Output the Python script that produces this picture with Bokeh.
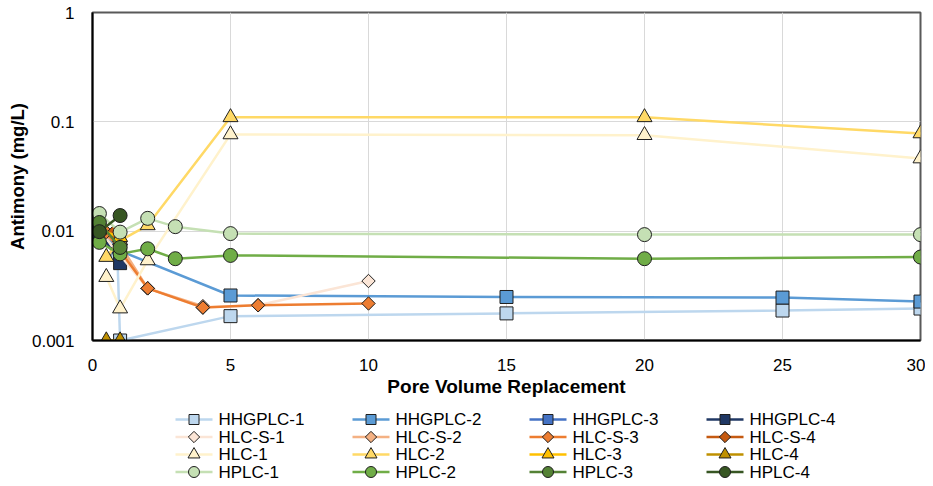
import math
from bokeh.plotting import figure
from bokeh.layouts import column
from bokeh.models import FixedTicker, CustomJSTickFormatter, Range1d
from bokeh.core.properties import value
from bokeh.embed import file_html
from bokeh.resources import INLINE

# ---- data ----
series_names = ["HHGPLC-1", "HHGPLC-2", "HHGPLC-3", "HHGPLC-4",
                "HLC-S-1", "HLC-S-2", "HLC-S-3", "HLC-S-4",
                "HLC-1", "HLC-2", "HLC-3", "HLC-4",
                "HPLC-1", "HPLC-2", "HPLC-3", "HPLC-4"]

hhgplc1_x = [0.9, 1, 5, 15, 25, 30]
hhgplc1_y = [0.0062, 0.001, 0.00167, 0.00177, 0.00188, 0.00196]
hhgplc2_x = [0.25, 1, 5, 15, 25, 30]
hhgplc2_y = [0.0102, 0.0066, 0.00258, 0.0025, 0.00247, 0.00227]
hhgplc3_x = [0.25, 1]
hhgplc3_y = [0.0105, 0.0072]
hhgplc4_x = [0.25, 1]
hhgplc4_y = [0.0099, 0.0051]

hlcs1_x = [0.25, 2, 4, 6, 10]
hlcs1_y = [0.0102, 0.003, 0.002, 0.0021, 0.0035]
hlcs2_x = [0.25, 1, 2, 4]
hlcs2_y = [0.0098, 0.0075, 0.003, 0.00206]
hlcs3_x = [0.5, 2, 4, 6, 10]
hlcs3_y = [0.0098, 0.003, 0.002, 0.0021, 0.00218]
hlcs4_x = [0.25, 0.75]
hlcs4_y = [0.0100, 0.0097]

hlc1_x = [0.5, 1, 2, 5, 20, 30]
hlc1_y = [0.0038, 0.00196, 0.0054, 0.0767, 0.0755, 0.0462]
hlc2_x = [0.5, 1, 2, 5, 20, 30]
hlc2_y = [0.0058, 0.0082, 0.0113, 0.11, 0.11, 0.0783]
hlc3_x = [0.25, 1]
hlc3_y = [0.0103, 0.0088]
hlc4_x = [0.5, 1]
hlc4_y = [0.001, 0.001]

hplc1_x = [0.25, 1, 2, 3, 5, 20, 30]
hplc1_y = [0.0145, 0.0098, 0.0131, 0.011, 0.0095, 0.0093, 0.0093]
hplc2_x = [0.25, 1, 2, 3, 5, 20, 30]
hplc2_y = [0.0079, 0.0062, 0.0069, 0.0056, 0.006, 0.0056, 0.0058]
hplc3_x = [0.25, 1]
hplc3_y = [0.012, 0.0071]
hplc4_x = [0.25, 1]
hplc4_y = [0.0099, 0.0139]

x_ticks = [0, 5, 10, 15, 20, 25, 30]
y_ticks = [0.001, 0.01, 0.1, 1]

colors = ["#BDD7EE", "#5B9BD5", "#4472C4", "#203864",
          "#FBE5D6", "#F4B183", "#ED7D31", "#C55A11",
          "#FFF2CC", "#FFD966", "#FFC000", "#BF9000",
          "#C5E0B4", "#70AD47", "#548235", "#375623"]

xs = [hhgplc1_x, hhgplc2_x, hhgplc3_x, hhgplc4_x,
      hlcs1_x, hlcs2_x, hlcs3_x, hlcs4_x,
      hlc1_x, hlc2_x, hlc3_x, hlc4_x,
      hplc1_x, hplc2_x, hplc3_x, hplc4_x]
ys = [hhgplc1_y, hhgplc2_y, hhgplc3_y, hhgplc4_y,
      hlcs1_y, hlcs2_y, hlcs3_y, hlcs4_y,
      hlc1_y, hlc2_y, hlc3_y, hlc4_y,
      hplc1_y, hplc2_y, hplc3_y, hplc4_y]

# marker style per group: (marker, angle, plot size, legend size)
group_style = [("square", 0.0, 13, 10), ("square", math.pi / 4, 9.5, 8),
               ("triangle", 0.0, 15, 12), ("circle", 0.0, 14, 11)]

FONT = "Liberation Sans"
W = 925
BL, BR = 92, 5          # left / right borders (frame edges)
H_MAIN, H_LEG = 404, 82

p = figure(width=W, height=H_MAIN, y_axis_type="log",
           x_range=Range1d(0, 30), y_range=Range1d(0.001, 1),
           output_backend="svg", toolbar_location=None,
           min_border_left=BL, min_border_right=BR, min_border_top=12,
           min_border_bottom=64)

p.outline_line_color = "#595959"
p.outline_line_width = 2

p.xgrid.ticker = FixedTicker(ticks=x_ticks)
p.ygrid.ticker = FixedTicker(ticks=y_ticks)
p.xgrid.grid_line_color = "#D9D9D9"
p.ygrid.grid_line_color = "#D9D9D9"

p.xaxis.ticker = FixedTicker(ticks=x_ticks)
p.yaxis.ticker = FixedTicker(ticks=y_ticks)
p.yaxis.formatter = CustomJSTickFormatter(code="return tick.toString()")
for ax in (p.xaxis, p.yaxis):
    ax.axis_line_color = "black"
    ax.axis_line_width = 2
    ax.major_tick_line_color = None
    ax.minor_tick_line_color = None
    ax.major_tick_out = 0
    ax.major_tick_in = 0
    ax.minor_tick_out = 0
    ax.major_label_text_font = FONT
    ax.major_label_text_font_size = "17px"
    ax.major_label_text_color = "black"
    ax.axis_label_text_font = FONT
    ax.axis_label_text_font_style = "bold"
    ax.axis_label_text_color = "black"
p.xaxis.axis_label_text_font_size = "19px"
p.yaxis.axis_label_text_font_size = "18.5px"
p.xaxis.axis_label = "Pore Volume Replacement"
p.yaxis.axis_label = "Antimony (mg/L)"
p.xaxis.major_label_standoff = 18
p.xaxis.axis_label_standoff = 2
p.yaxis.major_label_standoff = 18
p.yaxis.axis_label_standoff = 1

for i, (x, y, c) in enumerate(zip(xs, ys, colors)):
    m, ang, s, _ = group_style[i // 4]
    p.line(x, y, line_color=c, line_width=2.5)
    p.scatter(x, y, marker=m, angle=ang, size=s, fill_color=c,
              line_color="#1f1f1f", line_width=1)

# ---- legend strip under the chart (coordinates are page pixels) ----
lg = figure(width=W, height=H_LEG,
            x_range=Range1d(BL, W - BR), y_range=Range1d(H_LEG, 0),
            output_backend="svg", toolbar_location=None,
            min_border_left=BL, min_border_right=BR, min_border_top=0,
            min_border_bottom=0)
lg.axis.visible = False
lg.grid.visible = False
lg.outline_line_color = None

COL0, COL_STEP, ROW0, ROW_STEP = 175, 177, 15, 17.5
GLYPH_W, TEXT_GAP = 37, 43
for i, (name, c) in enumerate(zip(series_names, colors)):
    m, ang, _, ls = group_style[i // 4]
    gx = COL0 + (i % 4) * COL_STEP
    gy = ROW0 + (i // 4) * ROW_STEP
    lg.line([gx, gx + GLYPH_W], [gy, gy], line_color=c, line_width=2.5)
    lg.scatter([gx + GLYPH_W / 2], [gy], marker=m, angle=ang, size=ls,
               fill_color=c, line_color="#1f1f1f", line_width=1)
    lg.text([gx + TEXT_GAP], [gy], text=[name], text_font=value(FONT),
            text_font_size=value("17px"), text_color="black",
            text_baseline="middle", text_align="left")

layout = column(p, lg, spacing=0)
open("out.html", "w").write(file_html(layout, INLINE))
